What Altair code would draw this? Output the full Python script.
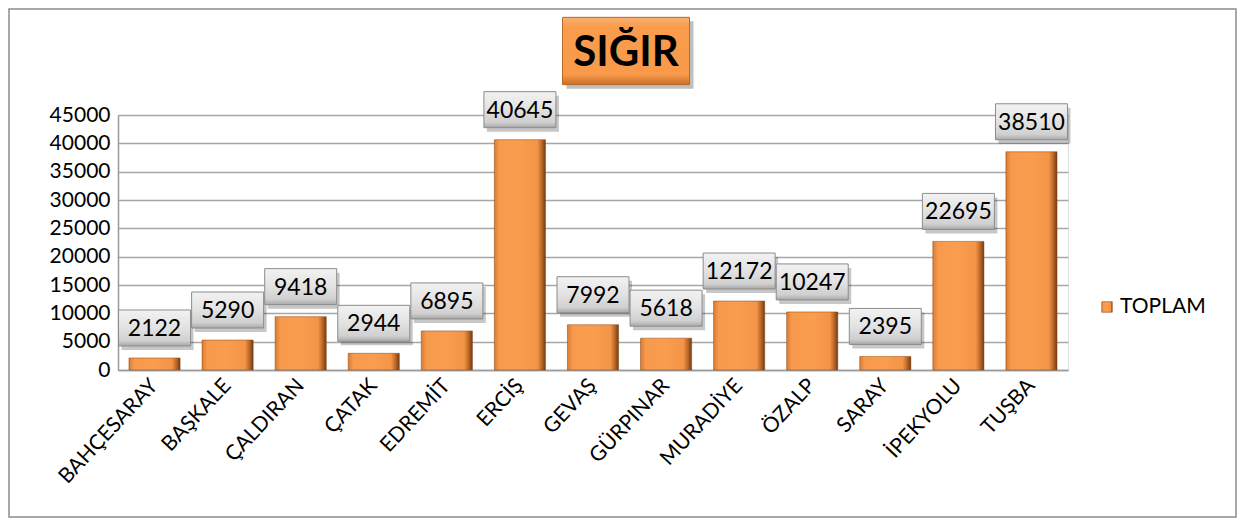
import altair as alt
import pandas as pd

districts = ["BAHÇESARAY", "BAŞKALE", "ÇALDIRAN", "ÇATAK", "EDREMİT", "ERCİŞ", "GEVAŞ",
             "GÜRPINAR", "MURADİYE", "ÖZALP", "SARAY", "İPEKYOLU", "TUŞBA"]
toplam = [2122, 5290, 9418, 2944, 6895, 40645, 7992, 5618, 12172, 10247, 2395, 22695, 38510]
title_text = "SIĞIR"
series_name = "TOPLAM"

df = pd.DataFrame({"ilce": districts, "deger": toplam})

FONT = "Lato"
W, H = 950, 255

bar_grad = alt.LinearGradient(
    gradient="linear", x1=0, x2=1, y1=0, y2=0,
    stops=[alt.GradientStop(color="#d97b32", offset=0),
           alt.GradientStop(color="#f89a4c", offset=0.1),
           alt.GradientStop(color="#fa9d4e", offset=0.5),
           alt.GradientStop(color="#f39447", offset=0.84),
           alt.GradientStop(color="#b86526", offset=0.93),
           alt.GradientStop(color="#6e3c15", offset=1)])

box_grad = alt.LinearGradient(
    gradient="linear", x1=0, x2=0, y1=0, y2=1,
    stops=[alt.GradientStop(color="#f2f2f2", offset=0),
           alt.GradientStop(color="#e2e2e2", offset=0.5),
           alt.GradientStop(color="#d0d0d0", offset=0.85),
           alt.GradientStop(color="#a8a8a8", offset=1)])

title_grad = alt.LinearGradient(
    gradient="linear", x1=0, x2=0, y1=0, y2=1,
    stops=[alt.GradientStop(color="#fbb06e", offset=0),
           alt.GradientStop(color="#f99c4d", offset=0.15),
           alt.GradientStop(color="#f89a4a", offset=0.85),
           alt.GradientStop(color="#c86e2a", offset=1)])

x_enc = alt.X("ilce:N", sort=districts, title=None,
              scale=alt.Scale(paddingInner=0.3, paddingOuter=0.15),
              axis=alt.Axis(labelAngle=-47, labelAlign="right", labelBaseline="middle",
                            labelFont=FONT, labelFontSize=21, labelColor="#000000",
                            labelPadding=12, ticks=False, domainColor="#9a9a9a",
                            domainWidth=1.5, grid=False))
y_enc = alt.Y("deger:Q", title=None,
              scale=alt.Scale(domain=[0, 45000], nice=False),
              axis=alt.Axis(values=list(range(0, 45001, 5000)), format="d", labelFont=FONT,
                            labelFontSize=21, labelColor="#000000", labelPadding=8,
                            ticks=False, domainColor="#9a9a9a", domainWidth=1.5,
                            gridColor="#a6a6a6", gridWidth=1.5))

base = alt.Chart(df).encode(x=x_enc, y=y_enc)

bars = base.mark_bar(color=bar_grad, stroke="#8a4513", strokeWidth=0.5)

BOX = "M -1 -0.5 L 1 -0.5 L 1 0.5 L -1 0.5 Z"
shadow = base.mark_point(shape=BOX, size=72 * 72, filled=True, color="#000000",
                         opacity=0.22, yOffset=-26, xOffset=3)
boxes = base.mark_point(shape=BOX, size=72 * 72, filled=True, fill=box_grad,
                        stroke="#8c8c8c", strokeWidth=1, opacity=1, yOffset=-30)
labels = base.mark_text(font=FONT, fontSize=23, color="#000000", yOffset=-29,
                        baseline="middle").encode(text=alt.Text("deger:Q", format="d"))

TBOX = "M -1 -0.53 L 1 -0.53 L 1 0.53 L -1 0.53 Z"
deco = pd.DataFrame({"t": [title_text]})
title_shadow = alt.Chart(deco).mark_point(
    shape=TBOX, size=127 * 127, filled=True, color="#000000", opacity=0.25
).encode(x=alt.value(512), y=alt.value(-60))
title_box = alt.Chart(deco).mark_point(
    shape=TBOX, size=127 * 127, filled=True,
    fill=title_grad, stroke="#b86a28", strokeWidth=1, opacity=1
).encode(x=alt.value(508), y=alt.value(-64))
title_txt = alt.Chart(deco).mark_text(
    font=FONT, fontSize=42, fontWeight="bold", color="#000000", baseline="middle"
).encode(x=alt.value(508), y=alt.value(-62), text="t:N")

leg = pd.DataFrame({"t": [series_name]})
leg_sq = alt.Chart(leg).mark_point(
    shape="square", size=110, filled=True, fill=bar_grad, stroke="#8a4513",
    strokeWidth=0.6, opacity=1
).encode(x=alt.value(989), y=alt.value(192))
leg_txt = alt.Chart(leg).mark_text(
    font=FONT, fontSize=21, color="#000000", align="left", baseline="middle"
).encode(x=alt.value(1002), y=alt.value(192), text="t:N")

border = alt.Chart(deco).mark_rect(
    fill=None, filled=False, stroke="#8c8c8c", strokeWidth=1.5
).encode(x=alt.value(-109), x2=alt.value(1118), y=alt.value(-106), y2=alt.value(402))

chart = alt.layer(border, bars, shadow, boxes, labels, title_shadow, title_box,
                  title_txt, leg_sq, leg_txt).properties(
    width=W, height=H,
    autosize=alt.AutoSizeParams(type="none"),
    padding={"left": 110, "top": 107, "right": 169, "bottom": 149},
).configure_view(stroke=None).configure(background="#ffffff")

chart.save("out.html", embed_options={"renderer": "svg", "actions": False})
